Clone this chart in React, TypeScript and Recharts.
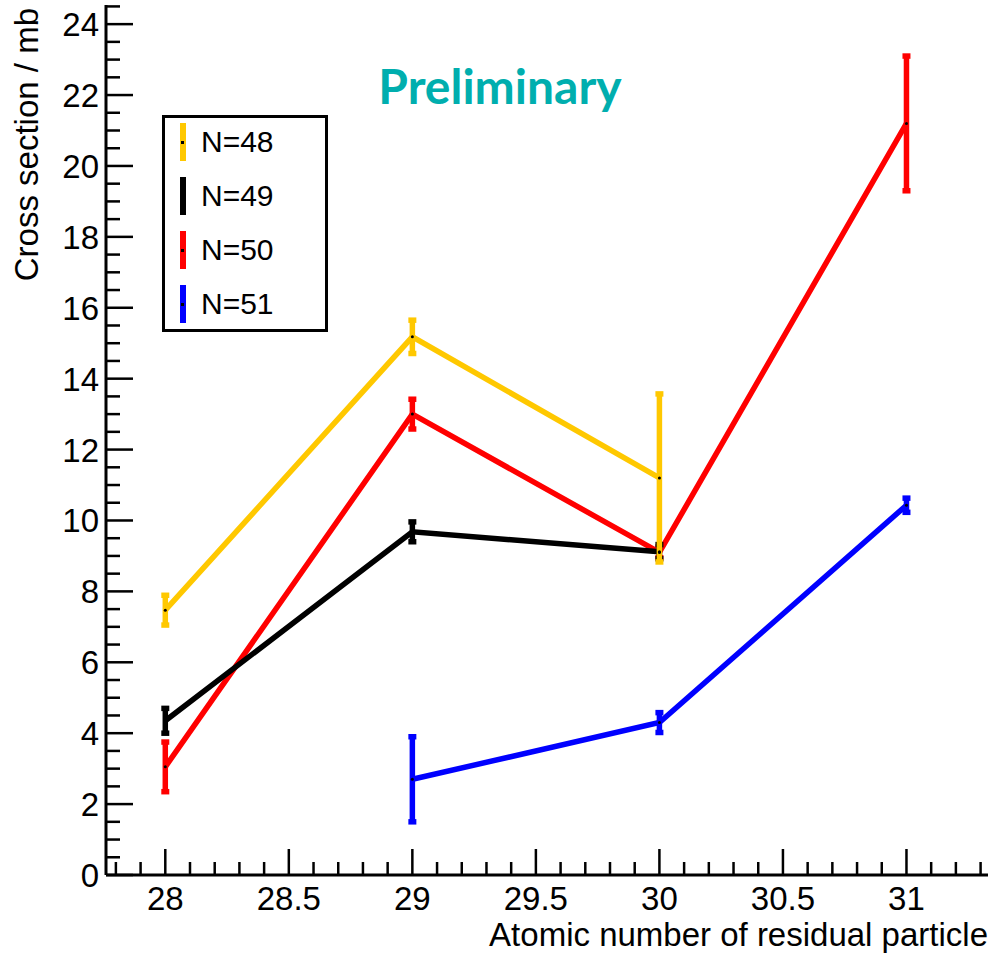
import React from 'react';
import { ComposedChart, Line, XAxis, YAxis, ErrorBar, Legend } from 'recharts';

// atomic number of the residual particle, one array per series
const n48Z = [28, 29, 30];
const n48Sigma = [7.47, 15.18, 11.2];
const n48Err = [0.42, 0.47, 2.37];

const n49Z = [28, 29, 30];
const n49Sigma = [4.35, 9.68, 9.12];
const n49Err = [0.35, 0.28, 0.2];

const n50Z = [28, 29, 30, 31];
const n50Sigma = [3.05, 13.0, 9.1, 21.2];
const n50Err = [0.7, 0.42, 0.15, 1.9];

const n51Z = [29, 30, 31];
const n51Sigma = [2.7, 4.3, 10.43];
const n51Err = [1.2, 0.28, 0.2];

const xMajorTicks = [28, 28.5, 29, 29.5, 30, 30.5, 31];
const yMajorTicks = [0, 2, 4, 6, 8, 10, 12, 14, 16, 18, 20, 22, 24];
const xDomain = [27.76, 31.33];
const yDomain = [0, 24.54];

const FONT = '"Liberation Sans", Arial, Helvetica, sans-serif';

// minor tick positions (axis decoration only)
function steps(from: number, to: number, step: number) {
  const out: number[] = [];
  for (let v = from; v <= to + 1e-9; v += step) out.push(Math.round(v * 100) / 100);
  return out;
}
const xTicks = steps(27.8, 31.3, 0.1);
const yTicks = steps(0, 24.5, 0.5);

const toPoints = (z: number[], s: number[], e: number[]) =>
  z.map((x, i) => ({ x, y: s[i], err: e[i] }));

const series = [
  { name: 'N=48', color: '#FFC800', data: toPoints(n48Z, n48Sigma, n48Err) },
  { name: 'N=49', color: '#000000', data: toPoints(n49Z, n49Sigma, n49Err) },
  { name: 'N=50', color: '#FF0000', data: toPoints(n50Z, n50Sigma, n50Err) },
  { name: 'N=51', color: '#0000FF', data: toPoints(n51Z, n51Sigma, n51Err) },
];

const isMajor = (v: number, list: number[]) => list.some((m) => Math.abs(m - v) < 1e-6);

function XTick(props: any) {
  const { x, y, payload } = props;
  const major = isMajor(payload.value, xMajorTicks);
  return (
    <g>
      <line x1={x} x2={x} y1={y} y2={y - (major ? 26 : 13)} stroke="#000" strokeWidth={2.5} />
      {major && (
        <text x={x} y={y + 35} textAnchor="middle" fontFamily={FONT} fontSize={33} fill="#000">
          {payload.value}
        </text>
      )}
    </g>
  );
}

function YTick(props: any) {
  const { x, y, payload } = props;
  const major = isMajor(payload.value, yMajorTicks);
  return (
    <g>
      <line x1={x} x2={x + (major ? 27 : 14)} y1={y} y2={y} stroke="#000" strokeWidth={2.5} />
      {major && (
        <text x={x - 7} y={y + 12} textAnchor="end" fontFamily={FONT} fontSize={33} fill="#000">
          {payload.value}
        </text>
      )}
    </g>
  );
}

function LegendBox() {
  return (
    <div
      style={{
        width: 166,
        height: 217,
        boxSizing: 'border-box',
        border: '3px solid #000',
        background: '#fff',
      }}
    >
      <div style={{ position: 'relative', top: -3 }}>
        {series.map((s) => (
          <div key={s.name} style={{ height: 54, display: 'flex', alignItems: 'center' }}>
            <div style={{ position: 'relative', width: 6, height: 38, background: s.color, marginLeft: 15 }}>
              <div style={{ position: 'absolute', left: 1, top: 18, width: 3, height: 3, background: '#000' }} />
            </div>
            <span style={{ marginLeft: 15, fontFamily: FONT, fontSize: 30, color: '#000' }}>{s.name}</span>
          </div>
        ))}
      </div>
    </div>
  );
}

export default function App() {
  // draw 51 first so 48 ends up on top, as in the original
  const drawOrder = [...series].reverse();
  return (
    <div style={{ position: 'absolute', left: 0, top: 0, width: 992, height: 954, background: '#fff' }}>
      <ComposedChart width={992} height={954} margin={{ top: 5, right: 4, bottom: 0, left: 0 }}>
        <XAxis
          dataKey="x"
          type="number"
          domain={xDomain}
          allowDataOverflow
          ticks={xTicks}
          interval={0}
          tick={<XTick />}
          tickSize={0}
          tickMargin={0}
          tickLine={false}
          height={79}
          axisLine={{ stroke: '#000', strokeWidth: 3 }}
          label={(p: any) => (
            <text
              x={p.viewBox.x + p.viewBox.width}
              y={p.viewBox.y + 71}
              textAnchor="end"
              fontFamily={FONT}
              fontSize={33}
              fill="#000"
            >
              Atomic number of residual particle
            </text>
          )}
        />
        <XAxis
          xAxisId="top"
          orientation="top"
          type="number"
          domain={xDomain}
          allowDataOverflow
          height={0}
          tick={false}
          tickLine={false}
          axisLine={{ stroke: '#000', strokeWidth: 3 }}
        />
        <YAxis
          type="number"
          domain={yDomain}
          allowDataOverflow
          ticks={yTicks}
          interval={0}
          tick={<YTick />}
          tickSize={0}
          tickMargin={0}
          tickLine={false}
          width={106}
          axisLine={{ stroke: '#000', strokeWidth: 3 }}
          label={(p: any) => (
            <text
              x={p.viewBox.x + 38}
              y={p.viewBox.y + 3}
              textAnchor="end"
              transform={`rotate(-90, ${p.viewBox.x + 38}, ${p.viewBox.y + 3})`}
              fontFamily={FONT}
              fontSize={33}
              fill="#000"
            >
              Cross section / mb
            </text>
          )}
        />
        <YAxis
          yAxisId="right"
          orientation="right"
          type="number"
          domain={yDomain}
          width={0}
          tick={false}
          tickLine={false}
          axisLine={{ stroke: '#000', strokeWidth: 3 }}
        />
        {drawOrder.map((s) => (
          <Line
            key={s.name}
            data={s.data}
            dataKey="y"
            name={s.name}
            stroke={s.color}
            strokeWidth={5.5}
            dot={{ r: 1.5, fill: '#000', stroke: 'none' }}
            isAnimationActive={false}
          >
            <ErrorBar dataKey="err" direction="y" width={4} stroke={s.color} strokeWidth={5.5} />
          </Line>
        ))}
        <Legend
          layout="vertical"
          align="center"
          verticalAlign="middle"
          content={() => <LegendBox />}
          wrapperStyle={{ left: 162, top: 115, width: 166, height: 217 }}
        />
      </ComposedChart>
      <div
        style={{
          position: 'absolute',
          left: 357,
          top: 56,
          width: 286,
          textAlign: 'center',
          fontFamily: 'Lato, "Open Sans", sans-serif',
          fontWeight: 700,
          fontSize: 48,
          color: '#00AEAE',
          lineHeight: '60px',
          whiteSpace: 'nowrap',
        }}
      >
        Preliminary
      </div>
    </div>
  );
}
